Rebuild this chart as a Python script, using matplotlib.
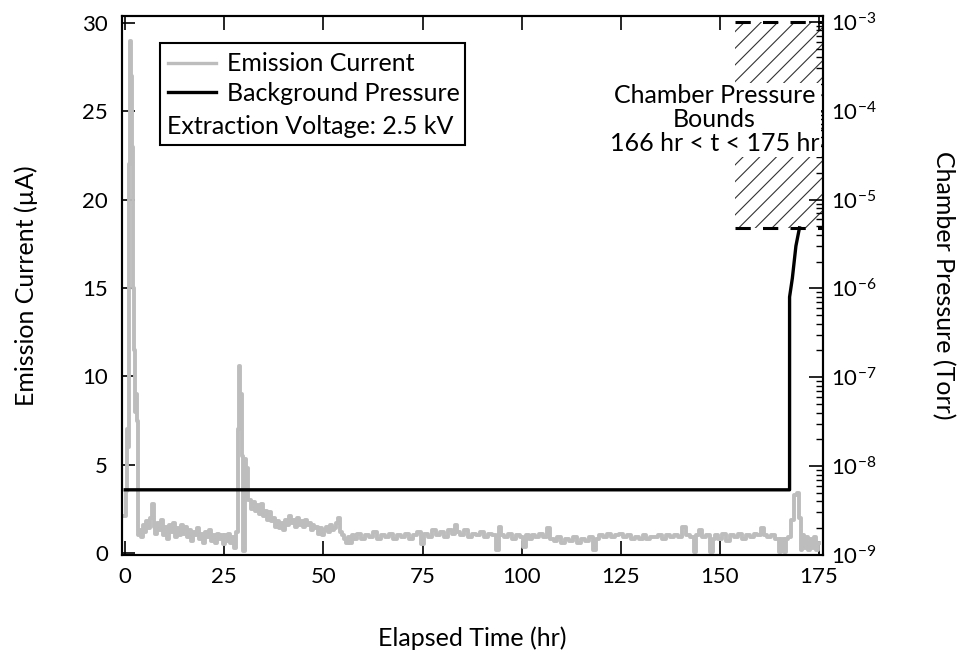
import numpy as np
import matplotlib
matplotlib.use("Agg")
import matplotlib.pyplot as plt
from matplotlib.patches import Rectangle
from matplotlib.lines import Line2D

plt.rcParams['font.family'] = ['Lato', 'DejaVu Sans']
plt.rcParams['mathtext.default'] = 'regular'
plt.rcParams['hatch.linewidth'] = 0.8

# emission current trace (hr, uA)
time_hr = [0.0, 0.3, 0.5, 0.8, 1.0, 1.2, 1.5, 1.8, 2.1, 2.3, 2.6, 2.9, 3.2, 3.5, 3.8,
           4.2, 4.6, 5.0, 5.5, 6.0, 6.5, 7.0, 7.4, 7.8, 8.3, 8.8, 9.3, 9.8, 10.3, 10.8,
           11.3, 11.8, 12.3, 12.8, 13.3, 13.8, 14.3, 14.8, 15.3, 15.8, 16.3, 16.8, 17.3,
           17.8, 18.3, 18.8, 19.3, 19.8, 20.3, 20.8, 21.3, 21.8, 22.3, 22.8, 23.3, 23.8,
           24.3, 24.8, 25.3, 25.8, 26.3, 26.8, 27.3, 27.8, 28.2, 28.5, 28.8, 29.2, 29.6,
           30.0, 30.3, 30.7, 31.1, 31.5, 32.0, 32.5, 33.0, 33.5, 34.0, 34.5, 35.0, 35.5,
           36.0, 36.5, 37.0, 37.5, 38.0, 38.5, 39.0, 39.5, 40.0, 40.5, 41.0, 41.5, 42.0,
           42.5, 43.0, 43.5, 44.0, 44.5, 45.0, 45.5, 46.0, 46.5, 47.0, 47.5, 48.0, 48.5,
           49.0, 49.5, 50.0, 50.5, 51.0, 51.5, 52.0, 52.5, 53.0, 53.5, 54.0, 54.5, 55.0,
           55.5, 56.0, 56.5, 57.0, 57.5, 58.0, 59, 60, 61, 62, 63, 64, 65, 66, 67, 68, 69,
           70, 71, 72, 73, 74, 75, 76, 77, 78, 79, 80, 81, 82, 83, 83.5, 84, 85, 86, 87,
           88, 89, 90, 91, 92, 93, 94, 94.4, 95, 96, 97, 98, 99, 100, 100.8, 101.5, 102,
           103, 104, 105, 106, 106.8, 107.6, 108.5, 109.5, 110.5, 111.5, 112.5, 113.5,
           114.5, 115.5, 116.5, 117.5, 118.5, 119.2, 120, 121, 122, 123, 124, 125, 126,
           127, 128, 129, 130, 131, 132, 133, 134, 135, 136, 137, 138, 139, 140, 141, 142,
           143, 143.8, 144.4, 145, 146, 147, 148, 148.6, 149, 150, 151, 152, 153, 154, 155,
           156, 157, 158, 159, 160, 160.8, 161.5, 162.5, 163.5, 164.5, 165.3, 165.8, 166.5,
           167, 167.6, 168.4, 169, 169.7, 170.3, 170.6, 171, 171.5, 172, 172.5, 173, 173.5,
           174, 174.5, 175]
current_uA = [2.1, 3.5, 7.0, 6.0, 22.0, 29.0, 27.0, 23.0, 15.0, 11.5, 8.0, 9.0, 7.5, 1.0, 1.3,
              0.9, 1.6, 1.2, 1.8, 1.4, 2.0, 2.8, 1.5, 1.1, 1.7, 1.3, 1.9, 1.0, 1.5, 0.8,
              1.6, 1.2, 1.7, 0.9, 1.4, 1.0, 1.6, 1.1, 1.5, 0.9, 1.3, 0.7, 1.2,
              1.0, 1.4, 0.8, 1.1, 0.6, 1.2, 0.9, 1.3, 0.7, 1.0, 0.6, 1.1, 0.8,
              1.0, 0.5, 1.0, 0.7, 1.1, 0.6, 0.9, 0.3, 1.2, 7.0, 10.6, 9.0, 5.5,
              0.1, 5.3, 4.8, 3.0, 3.0, 2.5, 2.9, 2.4, 2.7, 2.2, 2.8, 2.1, 2.4,
              1.9, 2.3, 1.8, 2.0, 1.5, 1.8, 1.4, 1.7, 1.3, 1.9, 1.6, 2.1, 1.7,
              1.9, 1.5, 2.0, 1.6, 1.8, 1.5, 1.9, 1.6, 1.7, 1.3, 1.6, 1.4, 1.5,
              1.1, 1.4, 1.0, 1.3, 1.5, 1.2, 1.6, 1.3, 1.4, 1.7, 2.0, 1.2, 1.0,
              0.8, 0.6, 0.9, 0.6, 1.0, 0.8, 1.1, 0.8, 1.0, 0.9, 1.2, 0.8, 1.0, 0.9, 1.1, 0.8, 1.0,
              0.9, 1.1, 0.8, 1.0, 1.2, 0.5, 1.1, 0.9, 1.3, 1.0, 1.2, 0.9, 1.3, 1.1, 1.6, 1.2, 1.0, 1.3, 0.9,
              1.1, 1.0, 1.2, 0.9, 1.1, 1.0, 0.2, 1.5, 1.0, 0.9, 1.1, 0.8, 1.0, 0.9, 0.35, 1.0, 0.8,
              1.0, 0.9, 1.1, 0.9, 1.4, 0.8, 0.7, 0.9, 0.6, 0.8, 0.7, 0.9,
              0.6, 0.8, 0.7, 0.9, 0.2, 0.8, 1.0, 0.9, 1.1, 0.9, 1.0, 1.1, 0.9,
              1.0, 0.8, 0.9, 0.8, 1.0, 0.8, 0.9, 0.9, 1.0, 0.8, 1.0, 0.9, 1.0, 0.9, 1.5, 1.0,
              0.9, 0.05, 1.0, 1.3, 0.9, 1.0, 0.05, 0.8, 1.0, 0.8, 1.1, 0.7, 1.0, 0.9, 1.1,
              0.8, 1.0, 0.9, 1.1, 1.0, 1.4, 1.0, 0.9, 1.0, 0.8, 0.05, 0.8, 0.05,
              0.8, 0.9, 1.9, 3.3, 3.4, 2.0, 0.2, 1.0, 0.3, 0.9, 0.2, 0.8, 0.3,
              0.9, 0.2, 0.6]

# background pressure (hr, Torr)
press_time = [0.0, 167.6, 167.6, 168.3, 169.2, 170.1]
press_torr = [5.4e-9, 5.4e-9, 8e-7, 1.3e-6, 3e-6, 4.8e-6]

# chamber pressure bound box
bound_t = [153.8, 176.0]
bound_p = [4.8e-6, 1e-3]

fig = plt.figure(figsize=(9.64, 6.59), dpi=100)
ax = fig.add_axes([0.1266, 0.158, 0.727, 0.818])
ax2 = ax.twinx()

ax.plot(time_hr, current_uA, color='#bdbdbd', lw=2.8, drawstyle='steps-mid')
ax2.plot(press_time, press_torr, color='black', lw=2.4)

ax2.set_yscale('log')
ax2.add_patch(Rectangle((bound_t[0], bound_p[0]), bound_t[1] - bound_t[0],
                        bound_p[1] - bound_p[0], facecolor='none',
                        edgecolor='#333333', hatch='//', lw=0))
for p in bound_p:
    ax2.plot(bound_t, [p, p], color='black', lw=2.2, ls=(0, (5, 4)))

ax.set_xlim(-0.8, 176)
ax.set_ylim(-0.1, 30.4)
ax2.set_ylim(1e-9, 1.17e-3)

ax.set_xticks(np.arange(0, 176, 25))
ax.set_yticks(np.arange(0, 31, 5))
ax.tick_params(axis='x', direction='in', length=10, width=1.2, top=True, labelsize=16, pad=9)
ax.tick_params(axis='y', direction='in', length=9, width=1.2, labelsize=16, pad=10)
ax2.tick_params(axis='y', which='major', direction='in', length=10, width=1.2, labelsize=16, pad=6)
ax2.tick_params(axis='y', which='minor', direction='in', length=5, width=1)
for a in (ax, ax2):
    for s in a.spines.values():
        s.set_linewidth(1.5)

ax.set_xlabel('Elapsed Time (hr)', fontsize=18, labelpad=28)
ax.set_ylabel('Emission Current (µA)', fontsize=18, labelpad=32)
ax2.set_ylabel('Chamber Pressure (Torr)', fontsize=18, rotation=270, labelpad=56)

ax2.text(148.6, 7.9e-5, 'Chamber Pressure\nBounds\n166 hr < t < 175 hr', ha='center', va='center',
         fontsize=18, linespacing=1.05,
         bbox=dict(facecolor='white', edgecolor='none', pad=1))

# legend box with the voltage note underneath
handles = [Line2D([], [], color='#bdbdbd', lw=2.4), Line2D([], [], color='black', lw=2.4)]
leg = ax2.legend(handles, ['Emission Current', 'Background Pressure'], loc='upper left',
                 bbox_to_anchor=(0.066, 0.932), frameon=False, fontsize=18,
                 borderaxespad=0, borderpad=0,
                 handlelength=1.9, handletextpad=0.45, labelspacing=0.25)
ax2.add_patch(Rectangle((0.054, 0.761), 0.435, 0.189, transform=ax.transAxes,
                        facecolor='white', edgecolor='black', lw=1.5, zorder=1))
ax2.text(0.064, 0.794, 'Extraction Voltage: 2.5 kV', transform=ax.transAxes, fontsize=18,
         va='center', zorder=6)

fig.savefig('out.png', dpi=100)
